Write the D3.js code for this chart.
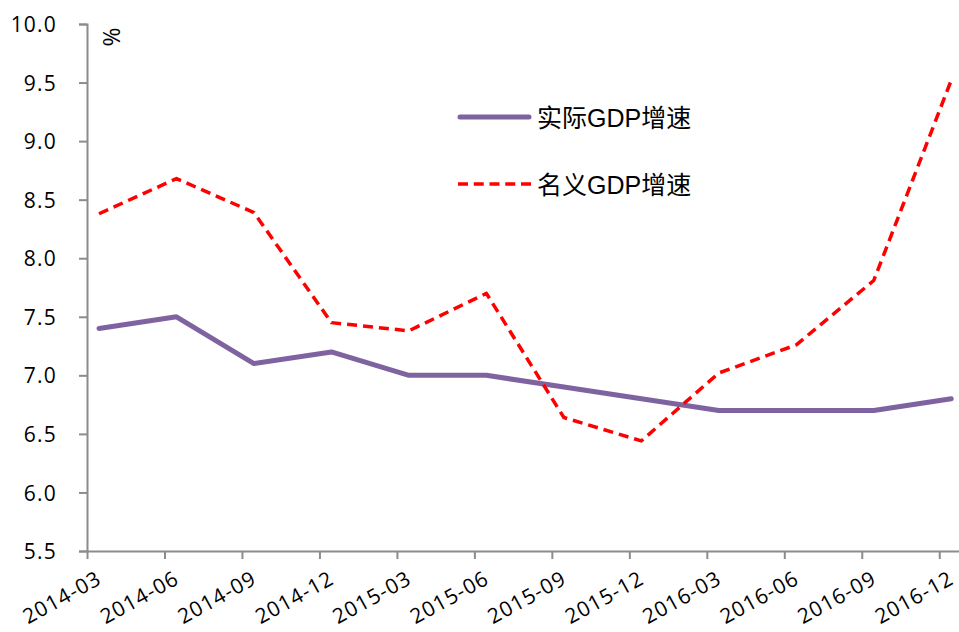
<!DOCTYPE html>
<html>
<head>
<meta charset="utf-8">
<script src="https://cdn.jsdelivr.net/npm/d3@7"></script>
<style>
  html, body { margin: 0; padding: 0; background: #fff; }
  svg { display: block; }
</style>
</head>
<body>
<svg id="chart" width="959" height="632"></svg>
<script>
const categories = ["2014-03","2014-06","2014-09","2014-12","2015-03","2015-06","2015-09","2015-12","2016-03","2016-06","2016-09","2016-12"];
const realGDP = [7.4, 7.5, 7.1, 7.2, 7.0, 7.0, 6.9, 6.8, 6.7, 6.7, 6.7, 6.8];
const nominalGDP = [8.38, 8.68, 8.39, 7.45, 7.38, 7.70, 6.64, 6.44, 7.02, 7.26, 7.81, 9.52];
const yTicks = [5.5, 6.0, 6.5, 7.0, 7.5, 8.0, 8.5, 9.0, 9.5, 10.0];
const seriesNames = ["实际GDP增速", "名义GDP增速"];
const yUnit = "%";

const svg = d3.select("#chart");
const axisColor = "#8c8c8c";
const tickFont = "'Open Sans', 'Noto Sans', sans-serif";

const x = d3.scaleLinear().domain([-0.155, 11.1]).range([87, 959]);
const y = d3.scaleLinear().domain([5.5, 10.0]).range([551, 24]);

// Y axis
const yAxis = d3.axisLeft(y).tickValues(yTicks).tickFormat(d3.format(".1f")).tickSize(8).tickPadding(22);
const gy = svg.append("g").attr("transform", `translate(${x(-0.155)},0)`).call(yAxis);
gy.select(".domain").attr("stroke", axisColor).attr("stroke-width", 2);
gy.selectAll(".tick line").attr("stroke", axisColor).attr("stroke-width", 2);
gy.selectAll(".tick text")
  .attr("fill", "#000")
  .style("font-family", tickFont)
  .style("font-size", "21px")
  .style("letter-spacing", "1.2px")
  .attr("dy", "0.36em");

// X axis
const xAxis = d3.axisBottom(x)
  .tickValues(categories.map((c, i) => i - 0.155))
  .tickFormat("")
  .tickSize(8)
  .tickSizeOuter(0);
const gx = svg.append("g").attr("transform", `translate(0,${y(5.5)})`).call(xAxis);
gx.select(".domain").attr("stroke", axisColor).attr("stroke-width", 2);
gx.selectAll(".tick line").attr("stroke", axisColor).attr("stroke-width", 2);

svg.append("g").selectAll("text")
  .data(categories)
  .join("text")
  .attr("transform", (d, i) => `translate(${x(i) + 4},${y(5.5) + 32}) rotate(-29)`)
  .attr("text-anchor", "end")
  .attr("fill", "#000")
  .style("font-family", tickFont)
  .style("font-size", "21px")
  .style("letter-spacing", "1px")
  .text(d => d);

// Unit label
svg.append("text")
  .attr("transform", `translate(112,37) rotate(90)`)
  .attr("text-anchor", "middle")
  .attr("dominant-baseline", "central")
  .style("font-family", tickFont)
  .style("font-size", "23px")
  .attr("fill", "#000")
  .text(yUnit);

// Lines
const line = d3.line().x((d, i) => x(i)).y(d => y(d));

svg.append("path")
  .datum(realGDP)
  .attr("d", line)
  .attr("fill", "none")
  .attr("stroke", "#7f63a1")
  .attr("stroke-width", 5)
  .attr("stroke-linejoin", "round")
  .attr("stroke-linecap", "round");

svg.append("path")
  .datum(nominalGDP)
  .attr("d", line)
  .attr("fill", "none")
  .attr("stroke", "#ff0000")
  .attr("stroke-width", 3.5)
  .attr("stroke-dasharray", "10,6")
  .attr("stroke-linejoin", "round");

// Legend
const legend = svg.append("g");
const legendItems = [
  { name: seriesNames[0], color: "#7f63a1", width: 5, dash: null, cap: "round", yy: 117 },
  { name: seriesNames[1], color: "#ff0000", width: 3.5, dash: "10,5.75", cap: "butt", yy: 184 }
];
legendItems.forEach(it => {
  legend.append("line")
    .attr("x1", it.cap === "round" ? 460 : 458).attr("x2", it.cap === "round" ? 529 : 531)
    .attr("y1", it.yy).attr("y2", it.yy)
    .attr("stroke", it.color)
    .attr("stroke-width", it.width)
    .attr("stroke-linecap", it.cap)
    .attr("stroke-dasharray", it.dash);
  legend.append("text")
    .attr("x", 537).attr("y", it.yy + 1)
    .attr("dominant-baseline", "central")
    .style("font-family", "'Liberation Sans', 'Noto Sans CJK SC', sans-serif")
    .style("font-size", "25px")
    .attr("fill", "#000")
    .text(it.name);
});
</script>
</body>
</html>
